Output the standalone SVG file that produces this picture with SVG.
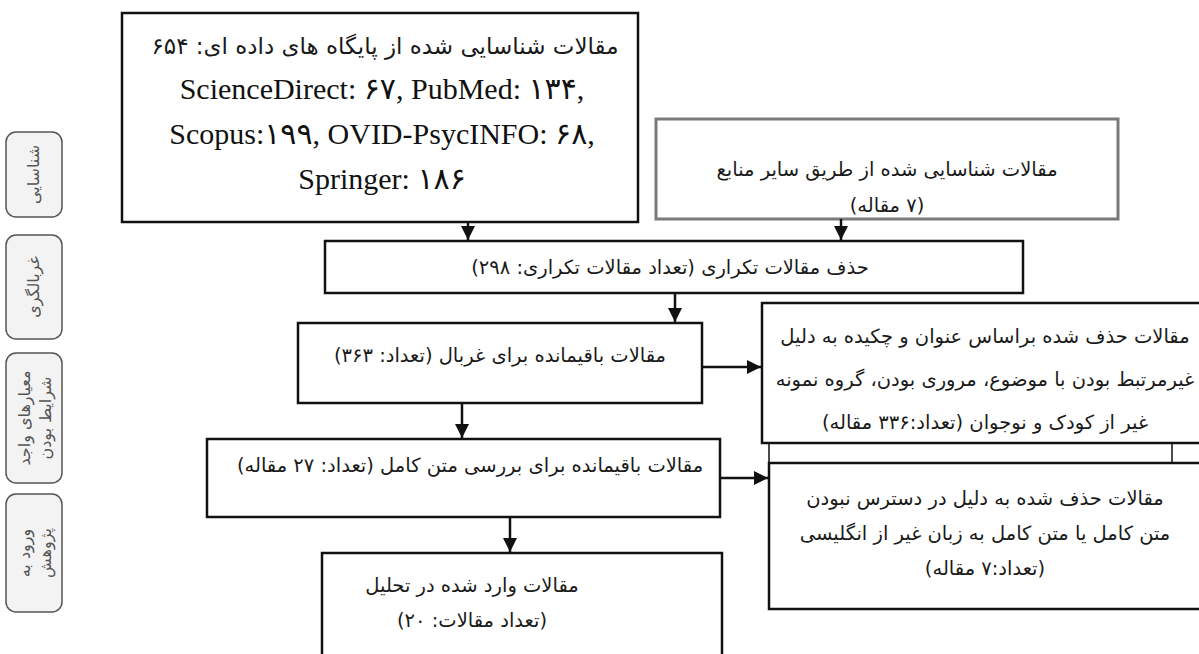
<svg xmlns="http://www.w3.org/2000/svg" width="1199" height="654" viewBox="0 0 1199 654">
<style>
.box{fill:#fff;stroke:#111;stroke-width:2.5}
.gbox{fill:#fff;stroke:#7a7a7a;stroke-width:3}
.lab{fill:#f3f3f3;stroke:#555;stroke-width:1.5}
.fa{font-family:'DejaVu Sans',sans-serif;font-size:19.5px;fill:#1a1a1a;text-anchor:middle;direction:rtl}
.en{font-family:'Liberation Serif','DejaVu Sans',serif;font-size:30px;fill:#111;text-anchor:middle}
.lt{font-family:'DejaVu Sans',sans-serif;font-size:16px;fill:#555;text-anchor:middle;direction:rtl}
.ln{stroke:#111;stroke-width:2.5;fill:none}
</style>
<defs>
<marker id="ah" viewBox="0 0 10 10" refX="10" refY="5" markerWidth="5.6" markerHeight="5.6" orient="auto"><path d="M0,0L10,5L0,10z" fill="#111"/></marker>
</defs>
<rect width="1199" height="654" fill="#fff"/>
<g id="labels">
<g id="lab1"><rect class="lab" x="6" y="132" width="56" height="85" rx="10"/><text class="lt" transform="translate(34 174.5) rotate(-90)" dy="5">شناسایی</text></g>
<g id="lab2"><rect class="lab" x="6" y="235" width="56" height="104" rx="10"/><text class="lt" transform="translate(34 287) rotate(-90)" dy="5">غربالگری</text></g>
<g id="lab3"><rect class="lab" x="6" y="353" width="56" height="130" rx="10"/><text class="lt" transform="translate(34 418) rotate(-90)"><tspan x="0" y="-4">معیارهای واجد</tspan><tspan x="0" y="17">شرایط بودن</tspan></text></g>
<g id="lab4"><rect class="lab" x="6" y="494" width="56" height="118" rx="10"/><text class="lt" transform="translate(34 553) rotate(-90)"><tspan x="0" y="-4">ورود به</tspan><tspan x="0" y="17">پژوهش</tspan></text></g>
</g>
<g id="n1"><rect class="box" x="122" y="13" width="516" height="209"/>
<text class="fa" x="385" y="54" style="font-size:23px">مقالات شناسایی شده از پایگاه های داده ای: ۶۵۴</text>
<text class="en" x="382" y="99">ScienceDirect: ۶۷, PubMed: ۱۳۴,</text>
<text class="en" x="382" y="144">Scopus:۱۹۹, OVID-PsycINFO: ۶۸,</text>
<text class="en" x="382" y="189">Springer: ۱۸۶</text></g>
<g id="n2"><rect class="gbox" x="656" y="119" width="462" height="100"/>
<text class="fa" x="887" y="176">مقالات شناسایی شده از طریق سایر منابع</text>
<text class="fa" x="887" y="212">(۷ مقاله)</text></g>
<g id="n3"><rect class="box" x="325" y="241" width="698" height="52"/>
<text class="fa" x="670" y="274">حذف مقالات تکراری (تعداد مقالات تکراری: ۲۹۸)</text></g>
<g id="n4"><rect class="box" x="298" y="323" width="404" height="80"/>
<text class="fa" x="500" y="362">مقالات باقیمانده برای غربال (تعداد: ۳۶۳)</text></g>
<g id="n5"><rect class="box" x="762" y="303" width="450" height="140"/>
<text class="fa" x="985" y="343">مقالات حذف شده براساس عنوان و چکیده به دلیل</text>
<text class="fa" x="985" y="386">غیرمرتبط بودن با موضوع، مروری بودن، گروه نمونه</text>
<text class="fa" x="985" y="429">غیر از کودک و نوجوان (تعداد:۳۳۶ مقاله)</text></g>
<g id="strip"><path class="ln" d="M769 443V463M1172 443V463" style="stroke-width:1.5"/></g>
<g id="n6"><rect class="box" x="207" y="439" width="513" height="78"/>
<text class="fa" x="470" y="472">مقالات باقیمانده برای بررسی متن کامل (تعداد: ۲۷ مقاله)</text></g>
<g id="n7"><rect class="box" x="769" y="463" width="450" height="146"/>
<text class="fa" x="985" y="505">مقالات حذف شده به دلیل در دسترس نبودن</text>
<text class="fa" x="985" y="540">متن کامل یا متن کامل به زبان غیر از انگلیسی</text>
<text class="fa" x="985" y="575">(تعداد:۷ مقاله)</text></g>
<g id="n8"><rect class="box" x="322" y="553" width="400" height="120"/>
<text class="fa" x="472" y="592">مقالات وارد شده در تحلیل</text>
<text class="fa" x="472" y="627">(تعداد مقالات: ۲۰)</text></g>
<g id="connectors">
<path class="ln" d="M468 222V240" marker-end="url(#ah)"/>
<path class="ln" d="M841 219V240" marker-end="url(#ah)"/>
<path class="ln" d="M675 293V322" marker-end="url(#ah)"/>
<path class="ln" d="M702 367H761" marker-end="url(#ah)"/>
<path class="ln" d="M462 403V438" marker-end="url(#ah)"/>
<path class="ln" d="M720 478H768" marker-end="url(#ah)"/>
<path class="ln" d="M510 517V552" marker-end="url(#ah)"/>
</g>
</svg>
